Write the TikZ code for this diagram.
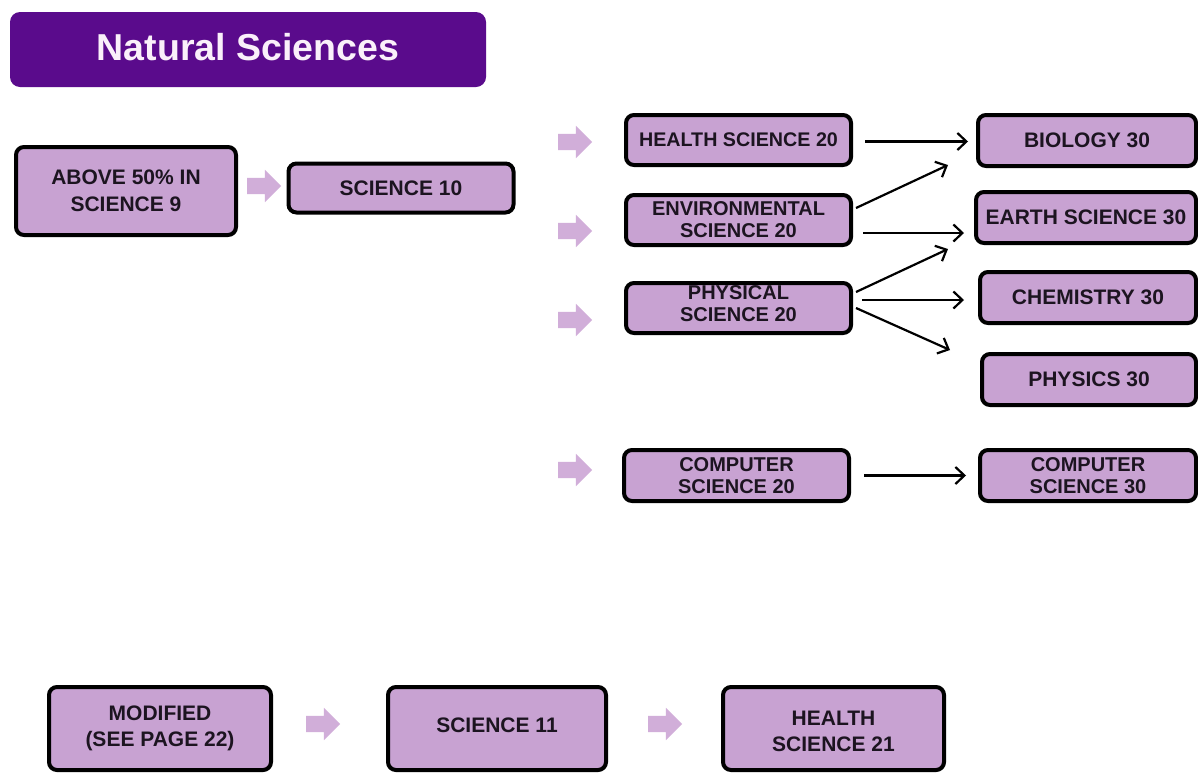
\documentclass[tikz,border=0pt]{standalone}
\usepackage{fontspec}
\setmainfont{Liberation Sans}
\usetikzlibrary{arrows.meta,shapes.arrows,calc}
\definecolor{boxfill}{HTML}{C8A2D2}
\definecolor{chevron}{HTML}{D1AED9}
\definecolor{titlepurple}{HTML}{5A0B8C}
\definecolor{ink}{HTML}{1C1420}
\definecolor{titleink}{HTML}{FAF0FA}
% centred block of lines, one baselineskip apart
\newcommand\twolines[1]{\begin{tabular}{@{}c@{}}#1\end{tabular}}
% move text up or down inside its box without changing the box
\newcommand\nudge[2]{\raisebox{#1}[\height][\depth]{#2}}

\begin{document}
\begin{tikzpicture}[x=1pt,y=-1pt,
  course/.style={draw=black, line width=4pt, rounded corners=8pt, fill=boxfill,
    text=ink, align=center, inner sep=0pt,
    font=\bfseries\fontsize{21}{22}\selectfont},
  wide/.style={course, font=\bfseries\fontsize{21}{27}\selectfont},
  low/.style={course, font=\bfseries\fontsize{21}{26}\selectfont},
  chev/.style={single arrow, fill=chevron, draw=none, minimum height=34pt,
    minimum width=0pt, inner xsep=0pt, inner ysep=8pt, text height=0pt, text depth=0pt,
    single arrow head extend=8pt, single arrow tip angle=90},
  conn/.style={draw=black, line width=2.2pt, -{Straight Barb[length=9pt,width=17pt]}},
]
\useasboundingbox (0,0) rectangle (1198,774);
\fill[white] (0,0) rectangle (1198,774);

% heading
\node[fill=titlepurple, rounded corners=10pt, minimum width=476pt, minimum height=75pt,
  inner sep=0pt, text=titleink, font=\bfseries\fontsize{37.5}{40}\selectfont]
  (title) at (248,49.5) {\nudge{2pt}{Natural Sciences}};

% entry path
\node[wide, minimum width=220pt, minimum height=88pt] (above) at (126,191) {ABOVE 50\% IN\\SCIENCE 9};
\node[chev] (ch0) at (260,186) {};
\node[course, minimum width=225pt, minimum height=49pt] (sci10) at (401,188) {SCIENCE 10};

% grade 11/12 options
\node[chev] (ch1) at (571,142) {};
\node[chev] (ch2) at (571,231) {};
\node[chev] (ch3) at (571,320) {};
\node[chev] (ch4) at (571,470) {};

\node[course, minimum width=225pt, minimum height=50pt, font=\bfseries\fontsize{19.7}{22}\selectfont]
  (hs20) at (738.5,140) {HEALTH SCIENCE 20};
\node[course, minimum width=225pt, minimum height=50pt, font=\bfseries\fontsize{20}{22}\selectfont]
  (env20) at (738.5,220) {ENVIRONMENTAL\\SCIENCE 20};
\node[course, minimum width=225pt, minimum height=50pt, font=\bfseries\fontsize{20}{22}\selectfont]
  (phys20) at (738.5,308) {\nudge{1.5pt}{\twolines{PHYSICAL\\SCIENCE 20}}};
\node[course, minimum width=225pt, minimum height=51pt, font=\bfseries\fontsize{20}{22}\selectfont]
  (cs20) at (736.5,475.5) {COMPUTER\\SCIENCE 20};

\node[course, minimum width=218pt, minimum height=51pt] (bio) at (1087,140.5) {BIOLOGY 30};
\node[course, minimum width=220pt, minimum height=51pt] (earth) at (1086,217.5) {EARTH SCIENCE 30};
\node[course, minimum width=216pt, minimum height=51pt] (chem) at (1088,297.5) {CHEMISTRY 30};
\node[course, minimum width=214pt, minimum height=51pt] (physics) at (1089,379.5) {PHYSICS 30};
\node[course, minimum width=216pt, minimum height=51pt, font=\bfseries\fontsize{20}{22}\selectfont]
  (cs30) at (1088,475.5) {COMPUTER\\SCIENCE 30};

\draw[conn] ($(hs20.east)+(12,1.5)$) -- ($(hs20.east -| bio.west)+(-8,1.5)$);
\draw[conn] ($(env20.east)+(3,-12)$) -- ($(bio.south west)+(-28,-3)$);
\draw[conn] ($(env20.east)+(10,13)$) -- ($(env20.east -| earth.west)+(-10,13)$);
\draw[conn] ($(phys20.east)+(3,-16)$) -- ($(earth.south west)+(-26,4)$);
\draw[conn] ($(phys20.east)+(9,-8)$) -- ($(phys20.east -| chem.west)+(-14,-8)$);
\draw[conn] ($(phys20.east)+(3,0)$) -- ($(physics.north west)+(-30,-2)$);
\draw[conn] ($(cs20.east)+(13,0)$) -- ($(cs20.east -| cs30.west)+(-12,0)$);

% modified path
\node[low, minimum width=222pt, minimum height=83pt] (mod) at (160,728.5)
  {\twolines{MODIFIED\\(SEE PAGE 22)}};
\node[chev] (ch5) at (319,724) {};
\node[low, minimum width=218pt, minimum height=83pt] (sci11) at (497,728.5) {\nudge{3pt}{SCIENCE 11}};
\node[chev] (ch6) at (661,724) {};
\node[low, minimum width=221pt, minimum height=83pt] (hs21) at (833.5,728.5)
  {\nudge{-5pt}{\twolines{HEALTH\\SCIENCE 21}}};
\end{tikzpicture}
\end{document}
